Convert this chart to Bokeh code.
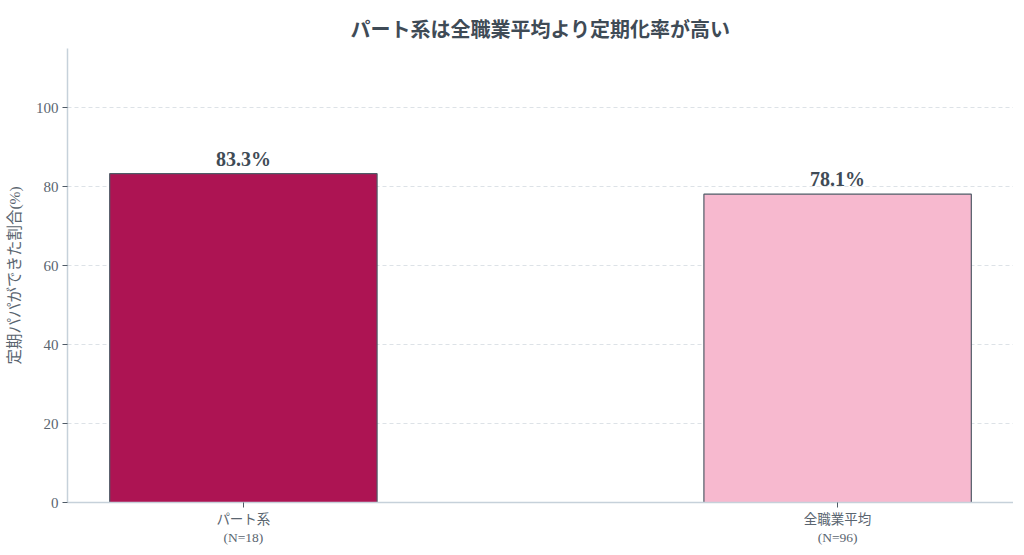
from bokeh.plotting import figure
from bokeh.models import ColumnDataSource, Range1d, FixedTicker
from bokeh.embed import file_html
from bokeh.resources import INLINE
from bokeh.core.properties import value

categories = ["パート系\n(N=18)", "全職業平均\n(N=96)"]
rates = [83.3, 78.1]
bar_colors = ["#AD1453", "#F7B9CF"]
y_ticks = [0, 20, 40, 60, 80, 100]

FONT = "'Liberation Serif', 'DejaVu Serif', 'Noto Sans CJK JP', serif"
TXT = "#3F4B56"

xs = list(range(len(categories)))
src = ColumnDataSource(dict(x=xs, top=rates, color=bar_colors,
                            label=[f"{r:.1f}%" for r in rates]))

p = figure(width=1013, height=547, output_backend="svg", toolbar_location=None,
           x_range=Range1d(-0.296, 1.296), y_range=Range1d(0, 115),
           min_border_left=67, min_border_right=0, min_border_bottom=45, min_border_top=48)
p.title.text = "パート系は全職業平均より定期化率が高い"
p.title.align = "center"
p.title.text_font = FONT
p.title.text_font_size = "20px"
p.title.text_font_style = "bold"
p.title.text_color = TXT
p.title.standoff = 16

p.vbar(x="x", top="top", width=0.45, bottom=0, source=src, fill_color="color",
       line_color="#4F5A66", line_width=1.2)
p.text(x="x", y="top", text="label", source=src, text_align="center",
       text_baseline="bottom", y_offset=-4, text_font=value(FONT),
       text_font_size="20px", text_font_style="bold", text_color=TXT)

p.outline_line_color = None
p.background_fill_color = "white"
p.border_fill_color = "white"
p.xgrid.grid_line_color = None
p.ygrid.ticker = FixedTicker(ticks=y_ticks)
p.ygrid.grid_line_color = "#DDE2E7"
p.ygrid.grid_line_dash = "4 3"
p.ygrid.grid_line_width = 1

p.yaxis.ticker = FixedTicker(ticks=y_ticks)
p.xaxis.ticker = FixedTicker(ticks=xs)
p.xaxis.major_label_overrides = {i: c for i, c in enumerate(categories)}
for ax in (p.xaxis[0], p.yaxis[0]):
    ax.axis_line_color = "#C6D1DA"
    ax.axis_line_width = 1.5
    ax.major_tick_line_color = "#4F5A66"
    ax.major_tick_in = 0
    ax.major_tick_out = 5
    ax.minor_tick_line_color = None
    ax.major_label_text_font = FONT
    ax.major_label_text_color = "#5A6570"
    ax.major_label_standoff = 4
p.xaxis.major_label_text_font_size = "13.5px"
p.yaxis.major_label_text_font_size = "15px"
p.yaxis.axis_label = "定期パパができた割合(%)"
p.yaxis.axis_label_text_font = FONT
p.yaxis.axis_label_text_font_size = "15.5px"
p.yaxis.axis_label_text_font_style = "normal"
p.yaxis.axis_label_text_color = "#5A6570"
p.yaxis.axis_label_standoff = 10

open("out.html", "w").write(file_html(p, INLINE))
